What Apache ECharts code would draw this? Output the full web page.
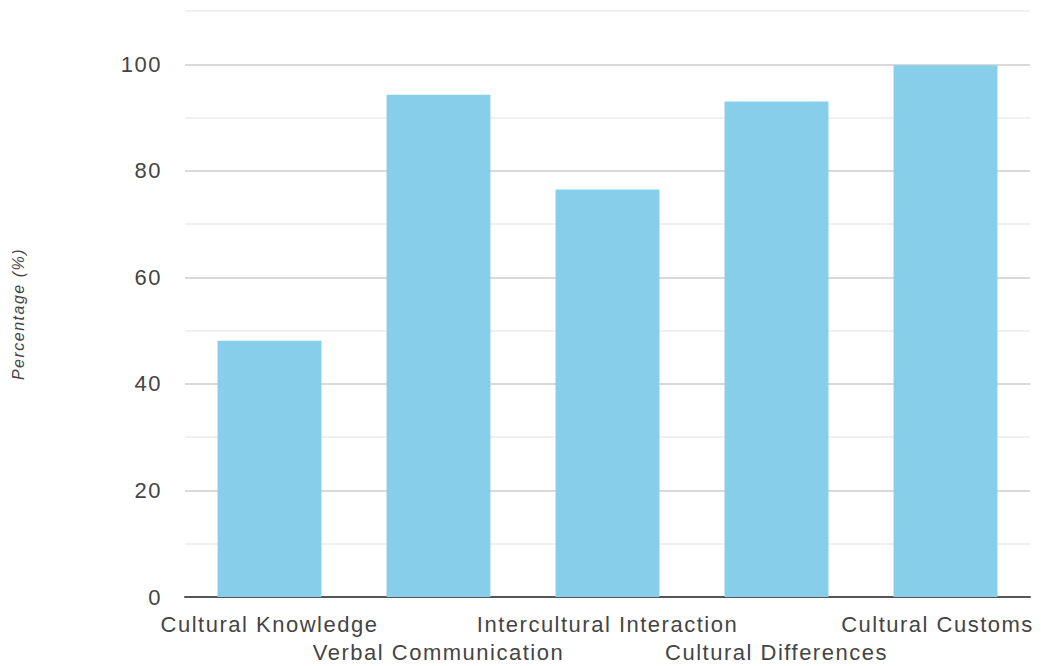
<!DOCTYPE html>
<html>
<head>
<meta charset="utf-8">
<script src="https://cdn.jsdelivr.net/npm/echarts@6/dist/echarts.min.js"></script>
<style>
  html, body { margin: 0; padding: 0; background: #fff; }
  #chart { width: 1041px; height: 666px; }
  #chart svg text { letter-spacing: 1.5px; }
</style>
</head>
<body>
<div id="chart"></div>
<script>
// Survey areas and the share of respondents for each
const categories = [
  'Cultural Knowledge',
  'Verbal Communication',
  'Intercultural Interaction',
  'Cultural Differences',
  'Cultural Customs'
];
const percentages = [48.1, 94.3, 76.5, 93.0, 99.8];
const yTickLabels = [0, 20, 40, 60, 80, 100];

const chart = echarts.init(document.getElementById('chart'), null, { renderer: 'svg' });

const fontFamily = "'Liberation Sans', Arial, sans-serif";

// keep the last category label inside the right edge
const categoryItems = categories.map(function (name, i) {
  return i === categories.length - 1
    ? { value: name, textStyle: { padding: [0, 16, 0, 0] } }
    : name;
});

chart.setOption({
  animation: false,
  backgroundColor: '#ffffff',
  grid: { left: 185, right: 11, top: 11, bottom: 65, containLabel: false },
  xAxis: {
    type: 'category',
    data: categoryItems,
    axisLine: { show: true, lineStyle: { color: '#555', width: 2 } },
    axisTick: { show: false },
    axisLabel: {
      interval: 0,
      margin: 13,
      color: '#444',
      fontSize: 22,
      fontFamily: fontFamily,
      lineHeight: 28,
      // stagger long names over two rows
      formatter: function (value, index) {
        return index % 2 === 1 ? '\n' + value : value;
      }
    },
    splitLine: { show: false }
  },
  yAxis: {
    type: 'value',
    min: 0,
    max: 110,
    interval: 10,
    name: 'Percentage (%)',
    nameLocation: 'middle',
    nameGap: 159,
    nameRotate: 90,
    nameTextStyle: {
      color: '#444',
      fontSize: 16,
      fontStyle: 'italic',
      fontFamily: fontFamily,
      padding: [0, 20, 0, 0]
    },
    axisLine: { show: false },
    axisTick: { show: false },
    axisLabel: {
      margin: 23,
      color: '#444',
      fontSize: 22,
      fontFamily: fontFamily,
      formatter: function (v) {
        return yTickLabels.indexOf(v) >= 0 ? String(v) : '';
      }
    },
    splitLine: {
      show: true,
      lineStyle: { color: ['#cccccc', '#ebebeb'], width: 1.5 }
    }
  },
  series: [{
    type: 'bar',
    data: percentages,
    barWidth: '61.5%',
    itemStyle: { color: '#87ceeb' }
  }]
});
</script>
</body>
</html>
